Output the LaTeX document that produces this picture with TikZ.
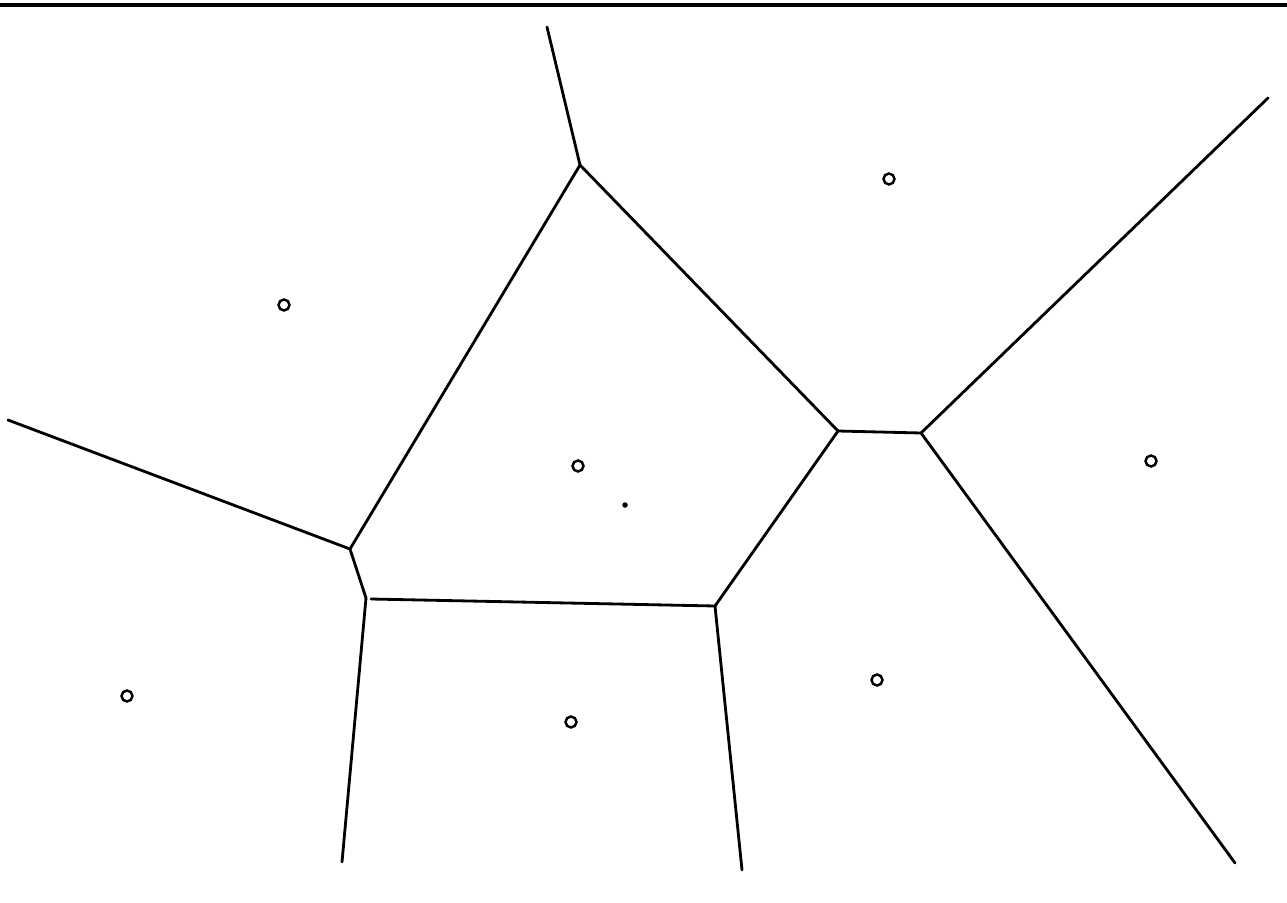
\documentclass[tikz,border=0pt]{standalone}
\begin{document}
\begin{tikzpicture}[x=0.02cm,y=-0.02cm,
  edge/.style={line width=1.6pt,line cap=round,line join=round},
  site/.style={circle,draw,line width=1.4pt,minimum size=0.22cm,inner sep=0pt},
  speck/.style={circle,fill,inner sep=0pt,minimum size=0.11cm}]
\useasboundingbox (0,0) rectangle (1287,902);
\coordinate (tl) at (0,5);
\coordinate (tr) at (1287,5);
\draw[line width=2.2pt] (tl) -- (tr);
% Voronoi vertices
\coordinate (A) at (580,165);
\coordinate (B) at (838,431);
\coordinate (C) at (921,433);
\coordinate (D) at (350,549);
\coordinate (E) at (366,598);
\coordinate (E2) at (371,599);
\coordinate (F) at (715,606);
% free ends
\coordinate (At) at (547,27);
\coordinate (Dl) at (8,420);
\coordinate (Eb) at (342,862);
\coordinate (Fb) at (742,870);
\coordinate (Cu) at (1268,98);
\coordinate (Cd) at (1235,863);
% edges
\draw[edge] (At) -- (A);
\draw[edge] (A) -- (B);
\draw[edge] (A) -- (D);
\draw[edge] (B) -- (C);
\draw[edge] (B) -- (F);
\draw[edge] (Dl) -- (D);
\draw[edge] (D) -- (E);
\draw[edge] (E) -- (Eb);
\draw[edge] (E2) -- (F);
\draw[edge] (F) -- (Fb);
\draw[edge] (C) -- (Cu);
\draw[edge] (C) -- (Cd);
% sites
\node[site] (s1) at (284,305) {};
\node[site] (s2) at (578,466) {};
\node[site] (s3) at (889,179) {};
\node[site] (s4) at (1151,461) {};
\node[site] (s5) at (127,696) {};
\node[site] (s6) at (571,722) {};
\node[site] (s7) at (877,680) {};
\node[speck] (d1) at (625,505) {};
\end{tikzpicture}
\end{document}
